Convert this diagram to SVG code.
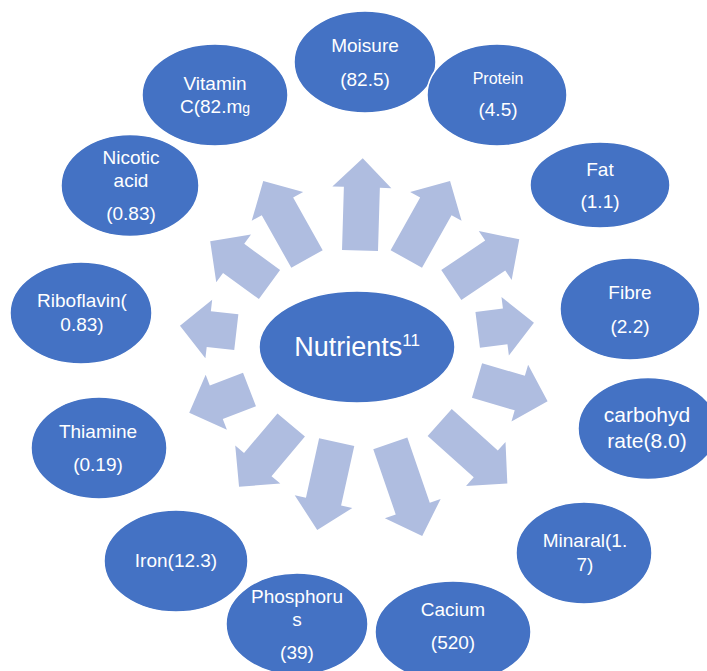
<svg xmlns="http://www.w3.org/2000/svg" width="707" height="671" viewBox="0 0 707 671">
<style>
.node{fill:#4472C4;stroke:#FFFFFF;stroke-width:1.5}
.arrow{fill:#AFBDE0;stroke:none}
text{font-family:"Liberation Sans",Arial,sans-serif;font-size:19px;fill:#FFFFFF;text-anchor:middle}
</style>
<rect x="0" y="0" width="707" height="671" fill="#FFFFFF"/>
<g id="connectors">
<polygon class="arrow" transform="translate(360,250.5) rotate(1.7)" points="-18,0 18,0 18,-63.2 29.5,-63.2 0,-92.2 -29.5,-63.2 -18,-63.2"/>
<polygon class="arrow" transform="translate(406.3,259) rotate(29.3)" points="-18,0 18,0 18,-60.4 29.5,-60.4 0,-89.4 -29.5,-60.4 -18,-60.4"/>
<polygon class="arrow" transform="translate(307,259) rotate(-29.3)" points="-18,0 18,0 18,-60.4 29.5,-60.4 0,-89.4 -29.5,-60.4 -18,-60.4"/>
<polygon class="arrow" transform="translate(451.3,285) rotate(56.1)" points="-18,0 18,0 18,-52.9 29.5,-52.9 0,-81.9 -29.5,-52.9 -18,-52.9"/>
<polygon class="arrow" transform="translate(477.7,329.8) rotate(82.8)" points="-18,0 18,0 18,-27.7 29.5,-27.7 0,-56.7 -29.5,-27.7 -18,-27.7"/>
<polygon class="arrow" transform="translate(477,380.5) rotate(106.4)" points="-18,0 18,0 18,-44.6 29.5,-44.6 0,-73.6 -29.5,-44.6 -18,-44.6"/>
<polygon class="arrow" transform="translate(439.7,422.5) rotate(132)" points="-18,0 18,0 18,-62 29.5,-62 0,-91 -29.5,-62 -18,-62"/>
<polygon class="arrow" transform="translate(390.3,443.3) rotate(161)" points="-18,0 18,0 18,-69 29.5,-69 0,-98 -29.5,-69 -18,-69"/>
<polygon class="arrow" transform="translate(336.7,442.2) rotate(-167.5)" points="-18,0 18,0 18,-60.9 29.5,-60.9 0,-89.9 -29.5,-60.9 -18,-60.9"/>
<polygon class="arrow" transform="translate(291.2,425) rotate(-139.8)" points="-18,0 18,0 18,-51.8 29.5,-51.8 0,-80.8 -29.5,-51.8 -18,-51.8"/>
<polygon class="arrow" transform="translate(249.5,389.5) rotate(-111.1)" points="-18,0 18,0 18,-35.6 29.5,-35.6 0,-64.6 -29.5,-35.6 -18,-35.6"/>
<polygon class="arrow" transform="translate(236.3,332.2) rotate(-83.4)" points="-18,0 18,0 18,-27.7 29.5,-27.7 0,-56.7 -29.5,-27.7 -18,-27.7"/>
<polygon class="arrow" transform="translate(269.5,284.5) rotate(-53.9)" points="-18,0 18,0 18,-44.4 29.5,-44.4 0,-73.4 -29.5,-44.4 -18,-44.4"/>
</g>
<g id="center">
<ellipse class="node" cx="357" cy="347" rx="98" ry="56"/>
<text x="357" y="356" style="font-size:27px">Nutrients<tspan dy="-10" style="font-size:17px">11</tspan></text>
</g>
<g id="moisure">
<ellipse class="node" cx="365" cy="62" rx="71" ry="51"/>
<text x="365" y="51.6">Moisure</text>
<text x="365" y="85.6">(82.5)</text>
</g>
<g id="protein">
<ellipse class="node" cx="497" cy="95" rx="70" ry="51"/>
<text x="498" y="83.6" style="font-size:16px">Protein</text>
<text x="498" y="115.6">(4.5)</text>
</g>
<g id="fat">
<ellipse class="node" cx="600" cy="185" rx="70" ry="43"/>
<text x="600" y="175.6">Fat</text>
<text x="600" y="207.6">(1.1)</text>
</g>
<g id="fibre">
<ellipse class="node" cx="630" cy="309" rx="70" ry="51"/>
<text x="630" y="298.6">Fibre</text>
<text x="630" y="332.6">(2.2)</text>
</g>
<g id="carbohydrate">
<ellipse class="node" cx="648" cy="428.5" rx="70" ry="51"/>
<text x="647" y="422.4" style="font-size:21px">carbohyd</text>
<text x="647" y="448.4" style="font-size:21px">rate(8.0)</text>
</g>
<g id="minaral">
<ellipse class="node" cx="584" cy="553" rx="68" ry="51"/>
<text x="585" y="546.6">Minaral(1.</text>
<text x="585" y="570.6">7)</text>
</g>
<g id="cacium">
<ellipse class="node" cx="453" cy="632" rx="78" ry="51"/>
<text x="453" y="615.6">Cacium</text>
<text x="453" y="648.6">(520)</text>
</g>
<g id="iron">
<ellipse class="node" cx="176" cy="561" rx="72" ry="51"/>
<text x="176" y="566.6">Iron(12.3)</text>
</g>
<g id="phosphorus">
<ellipse class="node" cx="297" cy="624" rx="71" ry="51"/>
<text x="297" y="602.6">Phosphoru</text>
<text x="297" y="625.6">s</text>
<text x="297" y="658.6">(39)</text>
</g>
<g id="thiamine">
<ellipse class="node" cx="99" cy="448" rx="68" ry="51"/>
<text x="98" y="437.6">Thiamine</text>
<text x="98" y="470.6">(0.19)</text>
</g>
<g id="riboflavin">
<ellipse class="node" cx="81" cy="313" rx="71" ry="51"/>
<text x="82" y="306.6">Riboflavin(</text>
<text x="82" y="330.6">0.83)</text>
</g>
<g id="nicotic">
<ellipse class="node" cx="130" cy="185.5" rx="69" ry="51"/>
<text x="131" y="163.6">Nicotic</text>
<text x="131" y="186.6">acid</text>
<text x="131" y="219.6">(0.83)</text>
</g>
<g id="vitamin">
<ellipse class="node" cx="215" cy="95" rx="73" ry="51"/>
<text x="215" y="89.6">Vitamin</text>
<text x="215" y="113">C(82.m<tspan style="font-size:14px">g</tspan></text>
</g>
</svg>
